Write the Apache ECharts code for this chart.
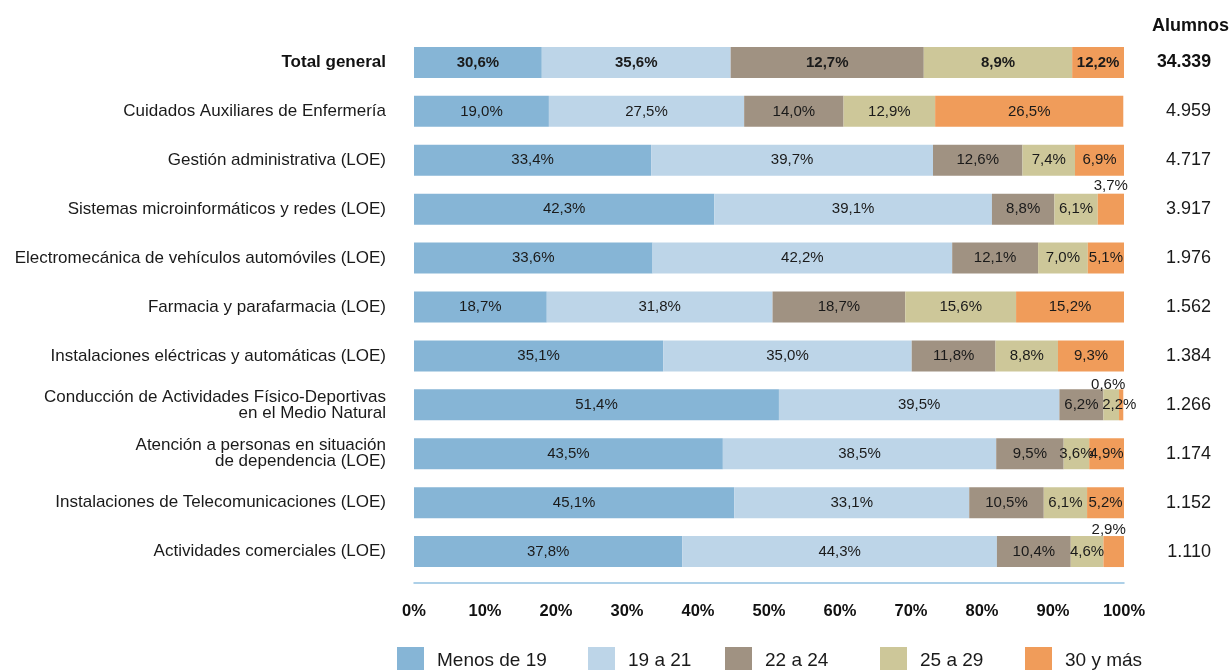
<!DOCTYPE html>
<html><head><meta charset="utf-8">
<script src="https://cdn.jsdelivr.net/npm/echarts@6/dist/echarts.min.js"></script>
<style>html,body{margin:0;padding:0;background:#fff}#c{width:1231px;height:670px}</style>
</head><body><div id="c"></div>
<script>
const categories = [
  'Total general',
  'Cuidados Auxiliares de Enfermería',
  'Gestión administrativa (LOE)',
  'Sistemas microinformáticos y redes (LOE)',
  'Electromecánica de vehículos automóviles (LOE)',
  'Farmacia y parafarmacia (LOE)',
  'Instalaciones eléctricas y automáticas (LOE)',
  'Conducción de Actividades Físico-Deportivas\nen el Medio Natural',
  'Atención a personas en situación\nde dependencia (LOE)',
  'Instalaciones de Telecomunicaciones (LOE)',
  'Actividades comerciales (LOE)'
];
const alumnos = ['34.339','4.959','4.717','3.917','1.976','1.562','1.384','1.266','1.174','1.152','1.110'];
const seriesNames = ['Menos de 19', '19 a 21', '22 a 24', '25 a 29', '30 y más'];
const menosDe19 = [30.6, 19.0, 33.4, 42.3, 33.6, 18.7, 35.1, 51.4, 43.5, 45.1, 37.8];
const de19a21   = [35.6, 27.5, 39.7, 39.1, 42.2, 31.8, 35.0, 39.5, 38.5, 33.1, 44.3];
const de22a24   = [12.7, 14.0, 12.6,  8.8, 12.1, 18.7, 11.8,  6.2,  9.5, 10.5, 10.4];
const de25a29   = [ 8.9, 12.9,  7.4,  6.1,  7.0, 15.6,  8.8,  2.2,  3.6,  6.1,  4.6];
const de30ymas  = [12.2, 26.5,  6.9,  3.7,  5.1, 15.2,  9.3,  0.6,  4.9,  5.2,  2.9];
// segment widths of the "Total general" bar as drawn in the picture (they differ from its printed labels)
const totalBarWidths = [18.0, 26.6, 27.2, 20.9, 7.3];
const xTicks = [0, 10, 20, 30, 40, 50, 60, 70, 80, 90, 100];

const colors = ['#86b5d6', '#bdd5e8', '#a09282', '#cdc799', '#f09c5a'];
const FONT = "'Liberation Sans', Arial, sans-serif";
const seriesValues = [menosDe19, de19a21, de22a24, de25a29, de30ymas];
const fmt = v => v.toFixed(1).replace('.', ',') + '%';

// special label placements for small segments
const labelTweaks = {
  '4-3': {position: 'top', distance: 0},
  '4-7': {position: 'top', distance: -3, offset: [-13, 0]},
  '3-7': {offset: [8, 0]},
  '4-10': {position: 'top', distance: -1, offset: [-5, 0]}
};

const series = seriesValues.map((vals, si) => ({
  name: seriesNames[si],
  type: 'bar',
  stack: 'total',
  barWidth: 31,
  itemStyle: {color: colors[si]},
  label: {
    show: true,
    position: 'inside',
    fontFamily: FONT,
    fontSize: 15,
    color: '#1a1a1a',
    formatter: p => fmt(vals[p.dataIndex])
  },
  data: vals.map((v, di) => {
    const item = {value: di === 0 ? totalBarWidths[si] : v};
    const lab = {};
    if (di === 0) { lab.fontWeight = 'bold'; lab.fontSize = 15; }
    Object.assign(lab, labelTweaks[si + '-' + di] || {});
    if (Object.keys(lab).length) item.label = lab;
    return item;
  })
}));

const legends = seriesNames.map((n, i) => ({
  data: [n],
  left: [392, 583, 720, 875, 1020][i],
  top: 642,
  itemWidth: 27,
  itemHeight: 27,
  icon: 'rect',
  selectedMode: false,
  textStyle: {fontFamily: FONT, fontSize: 19, color: '#1a1a1a', padding: [0, 0, 0, 8]}
}));

const chart = echarts.init(document.getElementById('c'));
chart.setOption({
  animation: false,
  backgroundColor: '#fff',
  textStyle: {fontFamily: FONT},
  title: {
    text: 'Alumnos', left: 1147, top: 12,
    textStyle: {fontFamily: FONT, fontSize: 18, fontWeight: 'bold', color: '#111'}
  },
  legend: legends,
  grid: {left: 414, right: 107, top: 38, height: 538, containLabel: false, outerBoundsMode: 'none'},
  xAxis: {
    type: 'value', min: 0, max: 100, interval: 10, position: 'bottom', offset: 7,
    axisLine: {show: true, lineStyle: {color: '#93c1e1', width: 1.5}},
    axisTick: {show: false},
    splitLine: {show: false},
    axisLabel: {
      fontFamily: FONT, fontSize: 16.5, fontWeight: 'bold', color: '#111', margin: 20,
      formatter: v => xTicks.includes(v) ? v + '%' : ''
    }
  },
  yAxis: [{
    type: 'category', data: categories, inverse: true,
    axisLine: {show: false}, axisTick: {show: false},
    axisLabel: {
      margin: 28, fontFamily: FONT, fontSize: 17, color: '#1a1a1a', lineHeight: 16,
      formatter: (v, i) => i === 0 ? '{b|' + v + '}' : v,
      rich: {b: {fontFamily: FONT, fontSize: 17, fontWeight: 'bold', color: '#111'}}
    }
  }, {
    type: 'category', data: alumnos, inverse: true, position: 'right',
    axisLine: {show: false}, axisTick: {show: false},
    axisLabel: {
      margin: 87, align: 'right', fontFamily: FONT, fontSize: 18, color: '#1a1a1a',
      formatter: (v, i) => i === 0 ? '{b|' + v + '}' : v,
      rich: {b: {fontFamily: FONT, fontSize: 17.7, fontWeight: 'bold', color: '#111'}}
    }
  }],
  series: series
});
</script>
</body></html>
